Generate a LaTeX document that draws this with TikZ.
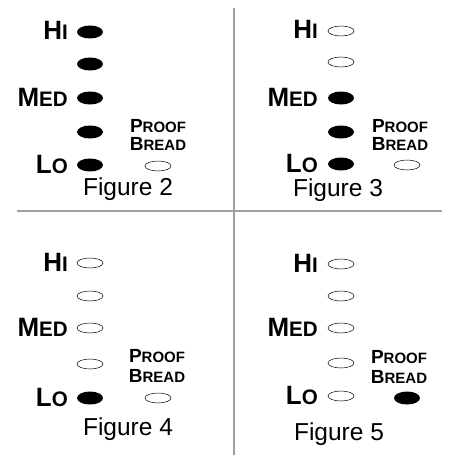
\documentclass[tikz,border=0pt]{standalone}
\usepackage{fontspec}
\setmainfont{Liberation Sans}
\usetikzlibrary{shapes.geometric}
\newcommand{\lab}[2]{\scalebox{0.98}[1]{\bfseries\fontsize{26.5}{26.5}\selectfont #1\fontsize{21}{21}\selectfont #2}}
\newcommand{\plab}[2]{\scalebox{1.0}[1]{\bfseries\fontsize{19}{19}\selectfont #1\fontsize{15}{15}\selectfont #2}}
\definecolor{rulegray}{HTML}{A0A0A0}
\begin{document}
\begin{tikzpicture}[x=1pt,y=-1pt,
  on/.style={ellipse,fill=black,minimum width=26pt,minimum height=13pt,inner sep=0pt},
  off/.style={ellipse,draw=black,line width=0.5pt,minimum width=26pt,minimum height=10pt,inner sep=0pt},
  lbl/.style={anchor=base east,inner sep=0pt},
  ptxt/.style={anchor=base,inner sep=0pt},
  figcap/.style={anchor=base,inner sep=0pt,font=\fontsize{24.5}{26}\selectfont},
  sepline/.style={draw=rulegray,line width=1.2pt}]
\useasboundingbox (0,0) rectangle (449,460);
% separators
\coordinate (vt) at (234,8);
\coordinate (vb) at (234,455);
\coordinate (hl) at (17,211);
\coordinate (hr) at (442,211);
\draw[sepline] (vt) -- (vb);
\draw[sepline] (hl) -- (hr);
% Figure 2
\node[on] (a1) at (90,32) {};
\node[on] (a2) at (90,64) {};
\node[on] (a3) at (90,98) {};
\node[on] (a4) at (90,132) {};
\node[on] (a5) at (90,165) {};
\node[lbl] (a1l) at (68,40) {\lab{H}{I}};
\node[lbl] (a3l) at (68,106) {\lab{M}{ED}};
\node[lbl] (a5l) at (68,173) {\lab{L}{O}};
\node[ptxt] (apt1) at (158,132) {\plab{P}{ROOF}};
\node[ptxt] (apt2) at (158,150) {\plab{B}{READ}};
\node[off] (ap) at (158,166) {};
\node[figcap] (acap) at (128,195) {Figure 2};
% Figure 3
\node[off] (b1) at (341,31) {};
\node[off] (b2) at (341,62) {};
\node[on] (b3) at (341,98) {};
\node[on] (b4) at (341,132) {};
\node[on] (b5) at (341,164) {};
\node[lbl] (b1l) at (318,39) {\lab{H}{I}};
\node[lbl] (b3l) at (318,106) {\lab{M}{ED}};
\node[lbl] (b5l) at (318,172) {\lab{L}{O}};
\node[ptxt] (bpt1) at (400,132) {\plab{P}{ROOF}};
\node[ptxt] (bpt2) at (400,150) {\plab{B}{READ}};
\node[off] (bp) at (407,165) {};
\node[figcap] (bcap) at (338,196) {Figure 3};
% Figure 4
\node[off] (c1) at (90,263) {};
\node[off] (c2) at (90,296) {};
\node[off] (c3) at (90,328) {};
\node[off] (c4) at (90,364) {};
\node[on] (c5) at (90,398) {};
\node[lbl] (c1l) at (68,271) {\lab{H}{I}};
\node[lbl] (c3l) at (68,336) {\lab{M}{ED}};
\node[lbl] (c5l) at (68,406) {\lab{L}{O}};
\node[ptxt] (cpt1) at (157,362) {\plab{P}{ROOF}};
\node[ptxt] (cpt2) at (157,382) {\plab{B}{READ}};
\node[off] (cp) at (158,398) {};
\node[figcap] (ccap) at (128,435) {Figure 4};
% Figure 5
\node[off] (d1) at (341,264) {};
\node[off] (d2) at (341,296) {};
\node[off] (d3) at (341,328) {};
\node[off] (d4) at (341,363) {};
\node[off] (d5) at (341,396) {};
\node[lbl] (d1l) at (318,272) {\lab{H}{I}};
\node[lbl] (d3l) at (318,336) {\lab{M}{ED}};
\node[lbl] (d5l) at (318,404) {\lab{L}{O}};
\node[ptxt] (dpt1) at (399,363) {\plab{P}{ROOF}};
\node[ptxt] (dpt2) at (399,383) {\plab{B}{READ}};
\node[on] (dp) at (407,398) {};
\node[figcap] (dcap) at (339,440) {Figure 5};
\end{tikzpicture}
\end{document}
